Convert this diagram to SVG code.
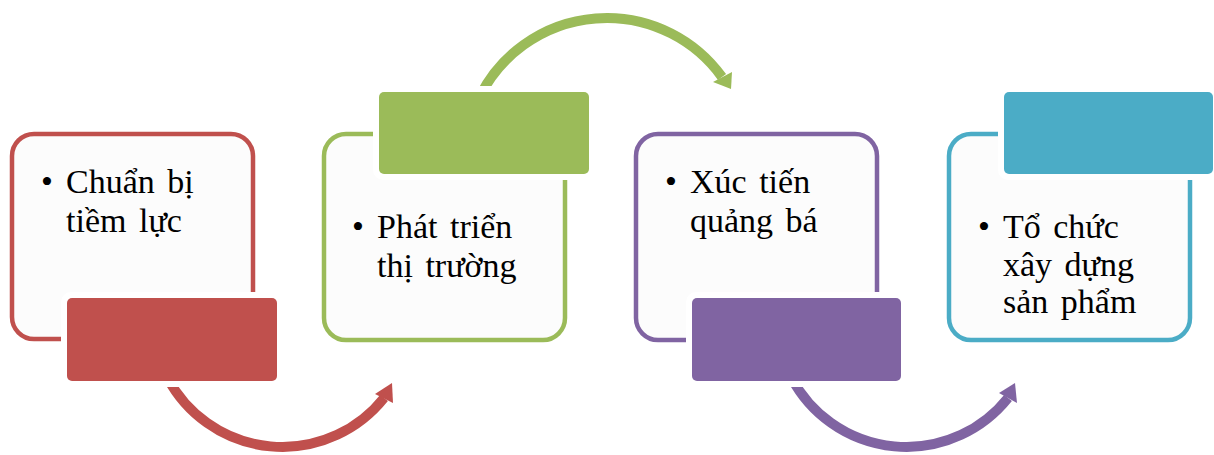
<svg xmlns="http://www.w3.org/2000/svg" width="1214" height="455" viewBox="0 0 1214 455">
<style>
.box{fill:#fcfcfc;stroke-width:4.5}
.back{fill:#ffffff}
.t{font-family:"Liberation Serif","Times New Roman",serif;font-size:34px;fill:#000;word-spacing:4px}
.b{font-family:"Liberation Serif","Times New Roman",serif;font-size:34px;fill:#000;text-anchor:middle}
.arc{fill:none;stroke-width:10}
</style>
<rect width="1214" height="455" fill="#ffffff"/>
<g id="connectors">
  <path class="arc" stroke="#C0504D" d="M167.6,378 A130,130 0 0 0 384,398"/>
  <polygon fill="#C0504D" points="375,394 392,383 393,403"/>
  <path class="arc" stroke="#9BBB59" d="M480,96 A142,142 0 0 1 722,77"/>
  <polygon fill="#9BBB59" points="713,82 732,72 731,89"/>
  <path class="arc" stroke="#8064A2" d="M791.6,378 A130,130 0 0 0 1008,398"/>
  <polygon fill="#8064A2" points="999,393 1015,383 1017,403"/>
</g>
<g id="node1">
  <rect class="box" stroke="#C0504D" x="12" y="134" width="241" height="205" rx="22"/>
  <rect class="back" x="61" y="292" width="222" height="95" rx="10"/>
  <rect fill="#C0504D" x="67" y="298" width="210" height="83" rx="5"/>
  <text class="b" x="47" y="193">•</text>
  <text class="t" x="66" y="193">Chuẩn bị</text>
  <text class="t" x="66" y="232">tiềm lực</text>
</g>
<g id="node2">
  <rect class="box" stroke="#9BBB59" x="324" y="134" width="241" height="206" rx="22"/>
  <rect class="back" x="373" y="86" width="222" height="94" rx="10"/>
  <rect fill="#9BBB59" x="379" y="92" width="210" height="82" rx="5"/>
  <text class="b" x="358" y="238">•</text>
  <text class="t" x="377" y="238">Phát triển</text>
  <text class="t" x="377" y="277">thị trường</text>
</g>
<g id="node3">
  <rect class="box" stroke="#8064A2" x="636" y="134" width="241" height="206" rx="22"/>
  <rect class="back" x="686" y="292" width="221" height="95" rx="10"/>
  <rect fill="#8064A2" x="692" y="298" width="209" height="83" rx="5"/>
  <text class="b" x="671" y="193">•</text>
  <text class="t" x="690" y="193">Xúc tiến</text>
  <text class="t" x="690" y="232">quảng bá</text>
</g>
<g id="node4">
  <rect class="box" stroke="#4BACC6" x="949" y="134" width="241" height="206" rx="22"/>
  <rect class="back" x="998" y="86" width="222" height="94" rx="10"/>
  <rect fill="#4BACC6" x="1004" y="92" width="209" height="82" rx="5"/>
  <text class="b" x="984" y="238">•</text>
  <text class="t" x="1003" y="238">Tổ chức</text>
  <text class="t" x="1003" y="276">xây dựng</text>
  <text class="t" x="1003" y="313">sản phẩm</text>
</g>
</svg>
